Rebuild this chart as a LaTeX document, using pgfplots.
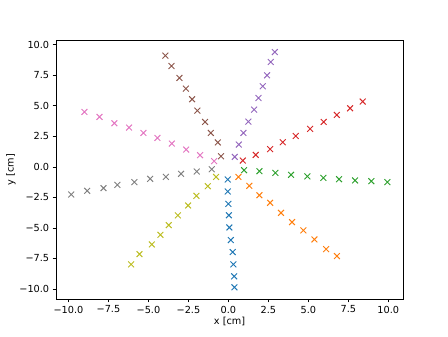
\documentclass[border=0pt]{standalone}
\usepackage{pgfplots}
\pgfplotsset{compat=1.18}
\usepackage{fontspec}
\setmainfont{DejaVu Sans}
\definecolor{c0}{HTML}{1F77B4}
\definecolor{c1}{HTML}{FF7F0E}
\definecolor{c2}{HTML}{2CA02C}
\definecolor{c3}{HTML}{D62728}
\definecolor{c4}{HTML}{9467BD}
\definecolor{c5}{HTML}{8C564B}
\definecolor{c6}{HTML}{E377C2}
\definecolor{c7}{HTML}{7F7F7F}
\definecolor{c8}{HTML}{BCBD22}
\begin{document}
\begin{tikzpicture}
\useasboundingbox (-57.6pt,-38.06pt) rectangle (403.2pt,307.6pt);
\begin{axis}[
  at={(0,0)}, anchor=south west,
  scale only axis, width=357.1pt, height=266.1pt,
  xmin=-10.78, xmax=10.93, ymin=-10.82, ymax=10.36,
  xtick={-10,-7.5,-5,-2.5,0,2.5,5,7.5,10},
  xticklabels={−10.0,−7.5,−5.0,−2.5,0.0,2.5,5.0,7.5,10.0},
  ytick={-10,-7.5,-5,-2.5,0,2.5,5,7.5,10},
  yticklabels={−10.0,−7.5,−5.0,−2.5,0.0,2.5,5.0,7.5,10.0},
  tick align=outside, xtick pos=bottom, ytick pos=left,
  major tick length=3.5pt,
  every tick/.style={black, line width=0.8pt},
  axis line style={line width=0.8pt},
  tick label style={font=\fontsize{10}{12}\selectfont},
  xlabel={x [cm]}, ylabel={y [cm]},
  label style={font=\fontsize{10}{12}\selectfont},
  xlabel style={yshift=3pt},
  ylabel style={yshift=-3pt},
  every axis plot/.append style={only marks, mark=x, mark size=4.24pt, line width=1pt},
]
\addplot[c0] coordinates {(-0.04,-1.03) (-0.04,-2.01) (0.0,-3.03) (0.03,-3.96) (0.06,-4.96) (0.15,-5.99) (0.27,-6.97) (0.31,-7.98) (0.36,-8.96) (0.38,-9.86)};
\addplot[c1] coordinates {(0.63,-0.82) (1.31,-1.55) (1.94,-2.32) (2.61,-2.94) (3.29,-3.76) (3.98,-4.52) (4.69,-5.20) (5.38,-5.94) (6.11,-6.73) (6.79,-7.30)};
\addplot[c2] coordinates {(0.98,-0.27) (1.94,-0.35) (2.94,-0.49) (3.92,-0.65) (4.94,-0.78) (5.94,-0.90) (6.92,-1.01) (7.92,-1.11) (8.94,-1.17) (9.94,-1.25)};
\addplot[c3] coordinates {(0.90,0.52) (1.71,0.98) (2.61,1.45) (3.40,2.02) (4.21,2.53) (5.11,3.11) (5.96,3.68) (6.78,4.25) (7.61,4.80) (8.40,5.35)};
\addplot[c4] coordinates {(0.40,0.82) (0.65,1.83) (0.94,2.78) (1.25,3.71) (1.61,4.69) (1.88,5.64) (2.15,6.60) (2.42,7.50) (2.65,8.59) (2.90,9.40)};
\addplot[c5] coordinates {(-0.46,0.87) (-0.66,2.00) (-1.10,2.78) (-1.46,3.68) (-1.94,4.61) (-2.27,5.54) (-2.66,6.41) (-3.06,7.28) (-3.56,8.26) (-3.94,9.11)};
\addplot[c6] coordinates {(-0.89,0.47) (-1.77,0.96) (-2.64,1.42) (-3.54,1.91) (-4.44,2.37) (-5.31,2.78) (-6.21,3.22) (-7.13,3.57) (-8.06,4.09) (-9.00,4.50)};
\addplot[c7] coordinates {(-1.04,-0.19) (-1.98,-0.38) (-2.96,-0.57) (-3.91,-0.82) (-4.89,-0.98) (-5.88,-1.25) (-6.94,-1.47) (-7.81,-1.74) (-8.83,-1.96) (-9.83,-2.26)};
\addplot[c8] coordinates {(-0.77,-0.82) (-1.29,-1.58) (-2.00,-2.37) (-2.52,-3.16) (-3.16,-3.97) (-3.73,-4.77) (-4.25,-5.56) (-4.79,-6.35) (-5.56,-7.14) (-6.08,-7.98)};
\end{axis}
\end{tikzpicture}
\end{document}
